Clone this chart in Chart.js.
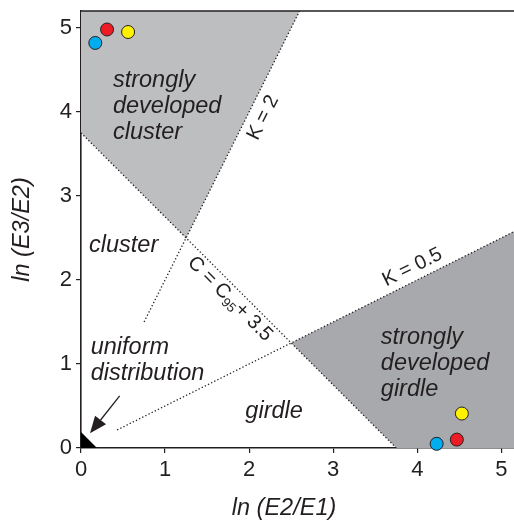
<!DOCTYPE html>
<html>
<head>
<meta charset="utf-8">
<script src="https://cdn.jsdelivr.net/npm/chart.js@4.4.1/dist/chart.umd.min.js"></script>
<style>
    html, body { margin: 0; padding: 0; background: #fff; }
</style>
</head>
<body>
<canvas id="fabricChart" width="514" height="525"></canvas>
<script>
const ink = "#231f20";
const sans = '"Liberation Sans", Arial, sans-serif';

/* ---------------- Data ---------------- */

const xTickValues = [0, 1, 2, 3, 4, 5];
const yTickValues = [0, 1, 2, 3, 4, 5];

// samples: one cluster fabric, one girdle fabric
const blueX = [0.17, 4.23];
const blueY = [4.82, 0.05];
const redX = [0.31, 4.47];
const redY = [4.98, 0.10];
const yellowX = [0.56, 4.53];
const yellowY = [4.95, 0.41];

// shaded fields
const clusterFieldX = [0, 0, 2.6, 1.25];
const clusterFieldY = [3.75, 5.2, 5.2, 2.5];
const girdleFieldX = [2.5, 5.15, 5.15, 3.75];
const girdleFieldY = [1.25, 2.575, 0, 0];

// uniform distribution corner
const uniformX = [0, 0.19, 0];
const uniformY = [0, 0, 0.19];

// dotted boundaries
const cLineX = [0, 3.75];
const cLineY = [3.75, 0];
const k2LineX = [0.75, 2.6];
const k2LineY = [1.5, 5.2];
const k05LineX = [0.43, 5.15];
const k05LineY = [0.215, 2.575];

// arrow to the uniform corner
const arrowX = [0.46, 0.107];
const arrowY = [0.62, 0.175];

const toPoints = (xs, ys) => xs.map((x, i) => ({ x: x, y: ys[i] }));

/* ---------------- Labels ---------------- */

const fieldLabels = [
    { lines: ["strongly", "developed", "cluster"], x: 0.38, y: 4.37 },
    { lines: ["cluster"], x: 0.095, y: 2.415 },
    { lines: ["uniform", "distribution"], x: 0.115, y: 1.2 },
    { lines: ["girdle"], x: 1.955, y: 0.43 },
    { lines: ["strongly", "developed", "girdle"], x: 3.566, y: 1.31 }
];

const lineLabels = [
    { parts: [["K = 2", 0]], x: 2.166, y: 3.93, angle: -63.43 },
    { parts: [["K = 0.5", 0]], x: 3.94, y: 2.15, angle: -26.57 },
    { parts: [["C = C", 0], ["95", 1], ["+ 3.5", 0]], x: 1.773, y: 1.773, angle: 45 }
];

const xTitle = { text: "ln (E2/E1)", x: 2.415 };

const annotationPlugin = {
    id: "annotations",
    afterDatasetsDraw(chart) {
        const { ctx, chartArea, scales: { x, y } } = chart;
        ctx.save();
        ctx.fillStyle = ink;
        ctx.strokeStyle = ink;

        // frame line along the top
        ctx.lineWidth = 1.6;
        ctx.beginPath();
        ctx.moveTo(chartArea.left, chartArea.top);
        ctx.lineTo(chartArea.right, chartArea.top);
        ctx.stroke();

        // italic field names
        ctx.font = "italic 23.5px " + sans;
        ctx.textAlign = "left";
        ctx.textBaseline = "middle";
        fieldLabels.forEach(label => {
            const px = x.getPixelForValue(label.x);
            const py = y.getPixelForValue(label.y);
            label.lines.forEach((line, i) => {
                ctx.fillText(line, px, py + i * 26);
            });
        });

        // x axis title
        ctx.textAlign = "center";
        ctx.fillText(xTitle.text, x.getPixelForValue(xTitle.x), x.bottom - 17);

        // labels along the boundary lines
        lineLabels.forEach(label => {
            const px = x.getPixelForValue(label.x);
            const py = y.getPixelForValue(label.y);
            const fonts = ["20px " + sans, "13px " + sans];
            let total = 0;
            label.parts.forEach(p => {
                ctx.font = fonts[p[1]];
                total += ctx.measureText(p[0]).width;
            });
            ctx.save();
            ctx.translate(px, py);
            ctx.rotate(label.angle * Math.PI / 180);
            ctx.textAlign = "left";
            ctx.textBaseline = "middle";
            let cx = -total / 2;
            label.parts.forEach(p => {
                ctx.font = fonts[p[1]];
                ctx.fillText(p[0], cx, p[1] ? 6 : 0);
                cx += ctx.measureText(p[0]).width;
            });
            ctx.restore();
        });

        // arrow
        const sx = x.getPixelForValue(arrowX[0]);
        const sy = y.getPixelForValue(arrowY[0]);
        const tx = x.getPixelForValue(arrowX[1]);
        const ty = y.getPixelForValue(arrowY[1]);
        const ang = Math.atan2(ty - sy, tx - sx);
        const headLen = 17;
        const headHalf = 7;
        const bx = tx - headLen * Math.cos(ang);
        const by = ty - headLen * Math.sin(ang);
        ctx.lineWidth = 1.3;
        ctx.beginPath();
        ctx.moveTo(sx, sy);
        ctx.lineTo(bx, by);
        ctx.stroke();
        ctx.beginPath();
        ctx.moveTo(tx, ty);
        ctx.lineTo(bx + headHalf * Math.sin(ang), by - headHalf * Math.cos(ang));
        ctx.lineTo(bx - headHalf * Math.sin(ang), by + headHalf * Math.cos(ang));
        ctx.closePath();
        ctx.fill();

        ctx.restore();
    }
};

/* ---------------- Datasets ---------------- */

function pointSet(label, xs, ys, colour) {
    return {
        label: label,
        data: toPoints(xs, ys),
        showLine: false,
        pointRadius: 6.5,
        pointHoverRadius: 6.5,
        pointBorderWidth: 1,
        pointBorderColor: ink,
        pointBackgroundColor: colour,
        clip: false,
        order: 0
    };
}

function fieldSet(label, xs, ys, colour, order) {
    return {
        label: label,
        data: toPoints(xs, ys),
        fill: "shape",
        backgroundColor: colour,
        borderWidth: 0,
        pointRadius: 0,
        tension: 0,
        order: order
    };
}

function dottedSet(label, xs, ys) {
    return {
        label: label,
        data: toPoints(xs, ys),
        fill: false,
        borderColor: ink,
        borderWidth: 1.3,
        borderDash: [1.3, 2.2],
        pointRadius: 0,
        tension: 0,
        order: 2
    };
}

const datasets = [
    pointSet("blue", blueX, blueY, "#00aeef"),
    pointSet("red", redX, redY, "#ed1c24"),
    pointSet("yellow", yellowX, yellowY, "#fff200"),
    fieldSet("uniform", uniformX, uniformY, "#000000", 1),
    dottedSet("C = C95 + 3.5", cLineX, cLineY),
    dottedSet("K = 2", k2LineX, k2LineY),
    dottedSet("K = 0.5", k05LineX, k05LineY),
    fieldSet("strongly developed cluster", clusterFieldX, clusterFieldY, "#bcbec0", 3),
    fieldSet("strongly developed girdle", girdleFieldX, girdleFieldY, "#a7a9ac", 3)
];

/* ---------------- Chart ---------------- */

function axis(min, max, tickValues, title, fixSize) {
    return {
        type: "linear",
        min: min,
        max: max,
        afterBuildTicks: scale => {
            scale.ticks = tickValues.map(v => ({ value: v }));
        },
        afterFit: scale => {
            fixSize(scale);
            scale.paddingTop = 0;
            scale.paddingBottom = 0;
            scale.paddingLeft = 0;
            scale.paddingRight = 0;
        },
        ticks: {
            color: ink,
            font: { family: sans, size: 22 },
            padding: 4,
            autoSkip: false,
            maxRotation: 0
        },
        grid: {
            drawOnChartArea: false,
            drawTicks: true,
            tickLength: 5,
            color: ink,
            lineWidth: 1.2
        },
        border: { color: ink, width: 1.6 },
        title: title
    };
}

new Chart(
    document.getElementById("fabricChart"),
    {
        type: "line",
        data: { datasets: datasets },
        plugins: [annotationPlugin],
        options: {
            responsive: false,
            animation: false,
            devicePixelRatio: 1,
            layout: { padding: { top: 11, left: 0, right: 0, bottom: 0 }, autoPadding: false },
            plugins: {
                legend: { display: false },
                tooltip: { enabled: false }
            },
            scales: {
                x: axis(0, 5.15, xTickValues, { display: false },
                    s => { s.height = 77; }),
                y: axis(0, 5.2, yTickValues, {
                    display: true,
                    text: "ln (E3/E2)",
                    color: ink,
                    font: { family: sans, size: 23.5, style: "italic" },
                    padding: { top: 8, bottom: 0 }
                }, s => { s.width = 81; })
            }
        }
    }
);
</script>
</body>
</html>
